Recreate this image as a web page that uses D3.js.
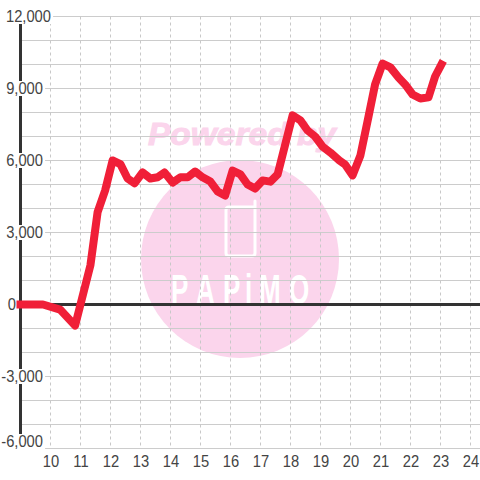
<!DOCTYPE html>
<html>
<head>
<meta charset="utf-8">
<script src="https://d3js.org/d3.v7.min.js"></script>
<style>
html, body { margin: 0; padding: 0; background: #fff; }
text { font-family: "Liberation Sans", sans-serif; }
</style>
</head>
<body>
<div id="chart"></div>
<script>
// values
var hours = [9, 9.75, 10.32, 10.82, 11.33, 11.57, 11.82, 12.07, 12.33, 12.57, 12.8, 13.07, 13.33, 13.57, 13.8, 14.07, 14.33, 14.57, 14.82, 15.07, 15.33, 15.57, 15.82, 16.07, 16.33, 16.57, 16.82, 17.07, 17.33, 17.57, 18.07, 18.33, 18.57, 18.82, 19.07, 19.33, 19.63, 19.82, 20.07, 20.33, 20.6, 20.82, 21.07, 21.33, 21.6, 21.82, 22.07, 22.33, 22.6, 22.82, 23.03];
var values = [0, 0, -210, -880, 1630, 3850, 4750, 6000, 5850, 5250, 5050, 5500, 5250, 5300, 5500, 5080, 5300, 5300, 5540, 5300, 5120, 4710, 4540, 5580, 5420, 5000, 4830, 5170, 5120, 5420, 7880, 7670, 7250, 7000, 6580, 6330, 6000, 5830, 5380, 6210, 7830, 9170, 10040, 9880, 9460, 9170, 8750, 8580, 8630, 9500, 10000];
var yMajor = [12000, 9000, 6000, 3000, 0, -3000, -6000];
var yMinor = [11000, 10000, 8000, 7000, 5000, 4000, 2000, 1000, -1000, -2000, -4000, -5000];
var xTicks = [10, 11, 12, 13, 14, 15, 16, 17, 18, 19, 20, 21, 22, 23, 24];

var svg = d3.select("#chart").append("svg")
    .attr("width", 480)
    .attr("height", 480)
    .style("display", "block");

var x = d3.scaleLinear().domain([9, 24]).range([20.5, 470.5]);
var y = d3.scaleLinear().domain([-6000, 12000]).range([448.5, 16.5]);

// watermark sits under the grid
var pink = "#fbd5ec";
svg.append("text")
    .attr("x", 148)
    .attr("y", 145)
    .attr("textLength", 188)
    .attr("lengthAdjust", "spacingAndGlyphs")
    .attr("font-size", 32)
    .attr("font-weight", "bold")
    .attr("font-style", "italic")
    .attr("fill", pink)
    .attr("stroke", pink)
    .attr("stroke-width", 1)
    .text("Powered by");
svg.append("circle")
    .attr("cx", 240)
    .attr("cy", 259)
    .attr("r", 99)
    .attr("fill", pink);
svg.append("path")
    .attr("d", "M255 201V253Q255 256 252 256H229Q226 256 226 253V210Q226 207 229 207H255")
    .attr("fill", "none")
    .attr("stroke", "#fff")
    .attr("stroke-width", 3)
    .attr("stroke-linecap", "round");
svg.append("text")
    .attr("transform", "scale(0.62,1)")
    .attr("x", [171, 196, 223, 245, 259, 289].map(function(d){ return d / 0.62; }).join(" "))
    .attr("y", 304)
    .attr("font-size", 42)
    .attr("font-weight", "bold")
    .attr("fill", "#fff")
    .text("PAPiMO");

// grid
svg.append("g").selectAll("line")
    .data(yMajor.concat(yMinor))
    .enter().append("line")
    .attr("x1", 20)
    .attr("x2", 480)
    .attr("y1", function(d){ return y(d); })
    .attr("y2", function(d){ return y(d); })
    .attr("stroke", "#ccc")
    .attr("stroke-width", 1.2);

svg.append("g").selectAll("line")
    .data(xTicks)
    .enter().append("line")
    .attr("x1", function(d){ return x(d); })
    .attr("x2", function(d){ return x(d); })
    .attr("y1", y(12000))
    .attr("y2", y(-6000))
    .attr("stroke", "#c8c8c8")
    .attr("stroke-width", 1)
    .attr("stroke-dasharray", "3,3");

// axis lines
svg.append("line")
    .attr("x1", x(9)).attr("x2", x(9))
    .attr("y1", y(12000)).attr("y2", y(-6000))
    .attr("stroke", "#333")
    .attr("stroke-width", 3);
svg.append("line")
    .attr("x1", 20).attr("x2", 480)
    .attr("y1", y(0)).attr("y2", y(0))
    .attr("stroke", "#333")
    .attr("stroke-width", 3);

// y labels have a white box behind them
function labelEnd(d){
    if(d == 12000) return 51;
    if(d == 0) return 16;
    return 43;
}
// squeeze a label a little sideways, the original glyphs are narrower
function squeeze(){
    d3.select(this)
        .attr("textLength", this.getComputedTextLength() * 0.92)
        .attr("lengthAdjust", "spacingAndGlyphs");
}
var fmt = d3.format(",");
var yLabels = svg.append("g").selectAll("g")
    .data(yMajor)
    .enter().append("g");
var yText = yLabels.append("text")
    .attr("x", labelEnd)
    // the bottom label is pushed up so it stays above the plot edge
    .attr("y", function(d){ return d == -6000 ? 447 : y(d) + 5.5; })
    .attr("text-anchor", "end")
    .attr("font-size", 16)
    .attr("fill", "#444")
    .text(function(d){ return fmt(d).replace("\u2212", "-"); })
    .each(squeeze);
yText.each(function(){
    var b = this.getBBox();
    d3.select(this.parentNode).insert("rect", "text")
        .attr("x", b.x - 1)
        .attr("y", b.y + 1)
        .attr("width", b.width + 3)
        .attr("height", b.height - 2)
        .attr("fill", "#fff");
});

svg.append("g").selectAll("text")
    .data(xTicks)
    .enter().append("text")
    .attr("x", function(d){ return x(d) + 0.5; })
    .attr("y", 467)
    .attr("text-anchor", "middle")
    .attr("font-size", 16)
    .attr("fill", "#444")
    .text(function(d){ return d; })
    .each(squeeze);

// the series
var line = d3.line()
    .x(function(d, i){ return x(hours[i]); })
    .y(function(d){ return y(d); });
svg.append("path")
    .attr("d", line(values))
    .attr("fill", "none")
    .attr("stroke", "#f01f38")
    .attr("stroke-width", 8)
    .attr("stroke-linecap", "square")
    .attr("stroke-linejoin", "round");
</script>
</body>
</html>
